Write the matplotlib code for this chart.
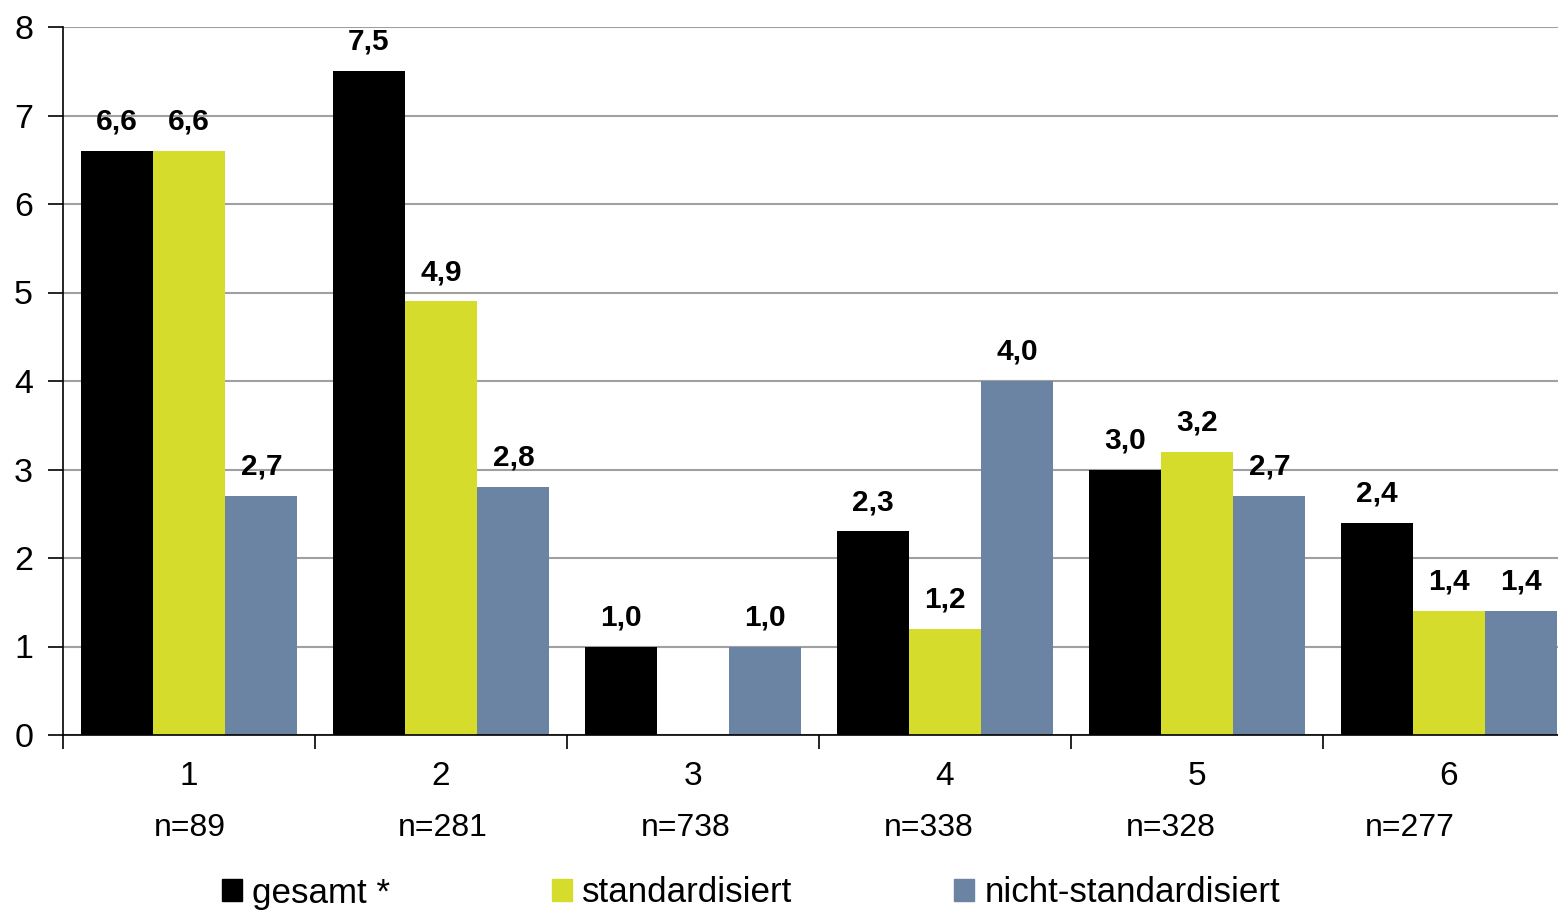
import numpy as np
import matplotlib.pyplot as plt
from matplotlib.patches import Rectangle

plt.rcParams['font.family'] = ['Liberation Sans', 'DejaVu Sans']

categories = ['1', '2', '3', '4', '5', '6']
n_labels = ['n=89', 'n=281', 'n=738', 'n=338', 'n=328', 'n=277']
series_names = ['gesamt *', 'standardisiert', 'nicht-standardisiert']
gesamt = [6.6, 7.5, 1.0, 2.3, 3.0, 2.4]
standardisiert = [6.6, 4.9, np.nan, 1.2, 3.2, 1.4]
nicht_standardisiert = [2.7, 2.8, 1.0, 4.0, 2.7, 1.4]

colors = ['#000000', '#d5dc2b', '#6b84a3']
series = [gesamt, standardisiert, nicht_standardisiert]

# die n=-Zeile sitzt im Original nicht genau unter den Gruppen
n_label_x = [0.004, 1.008, 1.972, 2.937, 3.897, 4.845]

fig = plt.figure(figsize=(15.58, 9.11), dpi=100)
ax = fig.add_axes([63 / 1558, 1 - 735 / 911, 1 - 63 / 1558, (735 - 27) / 911])

x = np.arange(len(categories))
bw = 0.287

for k, (vals, col) in enumerate(zip(series, colors)):
    pos = x + (k - 1) * bw
    ax.bar(pos, vals, width=bw, color=col, zorder=2)
    for xp, v in zip(pos, vals):
        if np.isnan(v):
            continue
        ax.annotate(f"{v:.1f}".replace('.', ','), (xp, v), xytext=(0, 11),
                    textcoords='offset points', ha='center', va='bottom',
                    fontsize=21.5, fontweight='bold')

ax.set_xticks(x)
ax.set_xticklabels(categories, fontsize=24)
ax.set_xticks(np.arange(-0.5, 6, 1), minor=True)
ax.tick_params(axis='x', which='major', length=0, pad=19)
ax.tick_params(axis='x', which='minor', length=10, width=1.2, direction='out')
ax.set_yticks(range(0, 9))
ax.tick_params(axis='y', labelsize=24.5, length=11, width=1.2, pad=10.5)

# Grenzen erst nach den Ticks setzen
ax.set_xlim(-0.5, 5.5 - 17 / 252)
ax.set_ylim(0, 8)

for xp, lab in zip(n_label_x, n_labels):
    ax.text(xp, -0.131, lab, transform=ax.get_xaxis_transform(),
            ha='center', va='center', fontsize=23)

ax.grid(axis='y', color='#a0a0a0', linewidth=1.5, zorder=0)
ax.set_axisbelow(True)
for s in ['top', 'right']:
    ax.spines[s].set_visible(False)
ax.spines['left'].set_linewidth(1.2)
ax.spines['bottom'].set_linewidth(1.2)

handles = [Rectangle((0, 0), 1, 1, color=c) for c in colors]
fig.legend(handles, series_names, loc='center', bbox_to_anchor=(751 / 1558, 1 - 893 / 911),
           ncol=3, frameon=False, fontsize=25.2, handlelength=0.58, handleheight=0.58,
           handletextpad=0.3, columnspacing=4.6, borderpad=0)

fig.savefig('out.png', dpi=100)
